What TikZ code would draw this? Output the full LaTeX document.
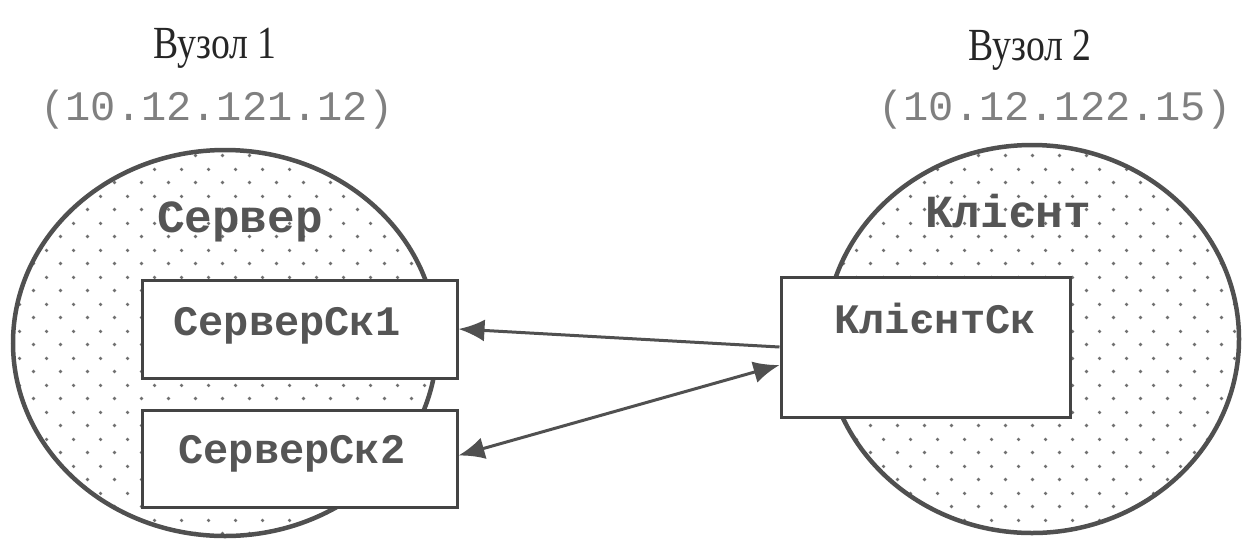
\documentclass[tikz,border=0pt]{standalone}
\usepackage{fontspec}
\setmainfont{Liberation Serif}
\newfontfamily\titlefont[FakeStretch=0.82]{Liberation Serif}
\newfontfamily\monofont{Liberation Mono}
\usetikzlibrary{arrows.meta,patterns.meta,shapes.geometric}
\definecolor{linec}{HTML}{505050}
\definecolor{boxc}{HTML}{444444}
\definecolor{txtc}{HTML}{555555}
\definecolor{ipc}{HTML}{808080}
\definecolor{dotc}{HTML}{707070}
\tikzdeclarepattern{name=sparsedots, type=uncolored,
  bounding box={(0pt,0pt) and (27pt,27pt)}, tile size={(27pt,27pt)},
  code={\fill (6.75pt,6.75pt) circle (1.9pt); \fill (20.25pt,20.25pt) circle (1.9pt);}}
\tikzset{
  hostshape/.style={ellipse, draw=linec, line width=4.5pt, pattern=sparsedots, pattern color=dotc, inner sep=0pt},
  sockbox/.style={rectangle, draw=boxc, line width=3pt, fill=white, inner sep=0pt},
  socktext/.style={font=\monofont\bfseries\fontsize{42}{46}\selectfont, text=txtc, anchor=base, inner sep=0pt},
  hosttext/.style={font=\monofont\bfseries\fontsize{46}{50}\selectfont, text=txtc, anchor=base, inner sep=0pt},
  titletext/.style={font=\titlefont\fontsize{46}{50}\selectfont, text=black!85, anchor=base, inner sep=0pt},
  iptext/.style={font=\monofont\fontsize{42}{46}\selectfont, text=ipc, anchor=base, inner sep=0pt},
  conn/.style={draw=linec, line width=3pt}
}
\begin{document}
\begin{tikzpicture}[x=1pt,y=-1pt]
\useasboundingbox (0,0) rectangle (1244,539);
% hosts
\node[hostshape, minimum width=424pt, minimum height=386pt] (h1) at (225,343) {};
\node[hostshape, minimum width=414pt, minimum height=388pt] (h2) at (1032,339) {};
% titles
\node[titletext] (t1) at (215,58) {Вузол 1};
\node[titletext] (t2) at (1030,60) {Вузол 2};
\node[iptext] (ip1) at (217,120) {(10.12.121.12)};
\node[iptext] (ip2) at (1055,120) {(10.12.122.15)};
% host labels
\node[hosttext] (srv) at (240,232) {Сервер};
\node[hosttext] (cli) at (1008,227) {Клієнт};
% socket boxes
\node[sockbox, minimum width=315pt, minimum height=98pt] (s1) at (299.5,329) {};
\node[sockbox, minimum width=315pt, minimum height=97pt] (s2) at (299.5,458.5) {};
\node[sockbox, minimum width=289pt, minimum height=140pt] (k) at (925.5,347) {};
\node[socktext] (s1t) at (287,335) {СерверСк1};
\node[socktext] (s2t) at (292,463) {СерверСк2};
\node[socktext] (kt) at (935,333) {КлієнтСк};
% connectors
\draw[conn, -{Latex[length=26pt,width=22pt]}] (k.west) -- (s1.east);
\draw[conn, {Latex[length=26pt,width=22pt]}-{Latex[length=26pt,width=22pt]}] ([yshift=3pt]s2.east) -- ([yshift=-18pt]k.west);
\end{tikzpicture}
\end{document}
